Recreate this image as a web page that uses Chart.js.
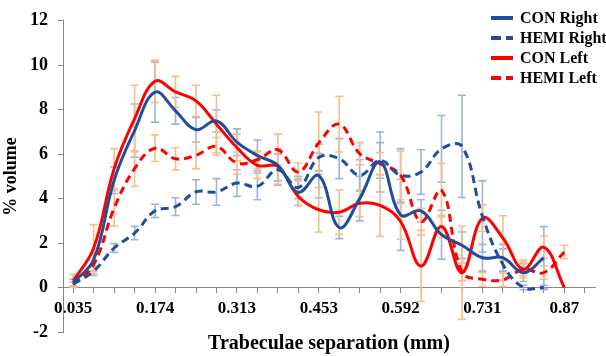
<!DOCTYPE html>
<html>
<head>
<meta charset="utf-8">
<script src="https://cdn.jsdelivr.net/npm/chart.js@4/dist/chart.umd.min.js"></script>
<style>
html, body { margin: 0; padding: 0; background: #ffffff; }
#wrap { position: relative; width: 606px; height: 356px; }
#legend { position: absolute; left: 491px; top: 8px; font: bold 16px "Liberation Serif", "Times New Roman", serif; color: #000; }
.item { display: flex; align-items: center; height: 20px; white-space: nowrap; }
.swatch { width: 22px; height: 4px; margin-right: 7px; }
</style>
</head>
<body>
<div id="wrap">
  <canvas id="c" width="606" height="356"></canvas>
  <div id="legend"></div>
</div>
<script>
// Categories (trabeculae separation, mm)
const categories = ['0.035','0.070','0.105','0.139','0.174','0.209','0.244','0.279','0.313','0.348','0.383','0.418','0.453','0.487','0.522','0.557','0.592','0.626','0.661','0.696','0.731','0.766','0.800','0.835','0.87','0.905'];

// Series values (% volume)
const conRight  = [0.22, 1.26, 4.83, 7.06, 8.79, 7.95, 7.10, 7.50, 6.54, 5.94, 5.50, 4.28, 5.04, 2.70, 4.00, 5.65, 3.27, 3.45, 2.38, 1.90, 1.34, 1.34, 0.67, 1.34, null];
const hemiRight = [0.15, 0.74, 1.78, 2.45, 3.45, 3.64, 4.30, 4.30, 4.70, 4.55, 5.30, 4.50, 5.85, 5.80, 5.05, 5.72, 5.05, 5.20, 6.24, 6.35, 3.20, 1.04, 0.00, 0.00, null];
const conLeft   = [0.30, 1.78, 5.35, 7.60, 9.28, 8.80, 8.40, 7.35, 6.30, 5.50, 5.45, 4.10, 3.50, 3.39, 3.79, 3.70, 2.97, 0.97, 2.75, 0.67, 3.12, 2.23, 0.82, 1.81, 0.00];
const hemiLeft  = [0.15, 1.04, 3.57, 5.35, 6.27, 5.79, 5.95, 6.35, 5.60, 5.75, 6.20, 5.20, 6.50, 7.35, 6.02, 5.57, 5.05, 2.97, 4.38, 0.70, 0.37, 0.35, 0.82, 0.67, 1.60];

// Error bar half-lengths
const conRightErr  = [0.15, 0.30, 0.60, 1.20, 1.35, 0.60, 0.55, 0.50, 0.60, 0.70, 0.70, 0.60, 1.00, 0.50, 1.00, 1.35, 1.60, 0.50, 1.10, 0.60, 0.60, 0.60, 0.40, 1.40, null];
const hemiRightErr = [0.10, 0.20, 0.20, 0.30, 0.30, 0.40, 0.55, 0.60, 0.60, 0.60, 0.70, 0.50, 0.60, 0.90, 0.70, 0.80, 1.20, 1.00, 1.50, 2.30, 1.60, 0.70, 0.10, 0.10, null];
const conLeftErr   = [0.30, 1.05, 0.90, 1.50, 0.95, 0.70, 0.70, 1.30, 0.60, 0.60, 0.80, 0.40, 1.00, 1.00, 0.60, 1.40, 0.80, 1.60, 0.50, 2.10, 0.60, 1.00, 0.40, 0.50, null];
const hemiLeftErr  = [0.10, 0.40, 0.80, 0.80, 0.60, 0.50, 0.60, 0.40, 0.50, 0.40, 0.70, 0.40, 1.40, 1.25, 0.50, 0.50, 1.10, 0.60, 1.20, 0.40, 0.30, 0.30, 0.30, 0.30, 0.30];

// Tick labels shown on the x axis
const xTickLabels = ['0.035','0.174','0.313','0.453','0.592','0.731','0.87'];
// Y axis ticks
const yMin = -2, yMax = 12, yStep = 2;

const BLUE = '#1F4E9B';
const RED = '#FF0000';
const BLUE_ERR = '#9BB4DE';
const ORANGE_ERR = '#F7BE86';
const SERIF = '"Liberation Serif", "Times New Roman", serif';

const errorBarPlugin = {
  id: 'errorBars',
  beforeDatasetsDraw(chart) {
    const ctx = chart.ctx;
    const y = chart.scales.y;
    chart.data.datasets.forEach((ds, i) => {
      const meta = chart.getDatasetMeta(i);
      if (meta.hidden || !ds.errors) return;
      ctx.save();
      ctx.strokeStyle = ds.errorColor;
      ctx.lineWidth = 1.6;
      meta.data.forEach((pt, j) => {
        const v = ds.data[j], e = ds.errors[j];
        if (v == null || e == null) return;
        const x = pt.x;
        const yt = y.getPixelForValue(v + e);
        const yb = y.getPixelForValue(v - e);
        ctx.beginPath();
        ctx.moveTo(x, yt); ctx.lineTo(x, yb);
        ctx.moveTo(x - 4, yt); ctx.lineTo(x + 4, yt);
        ctx.moveTo(x - 4, yb); ctx.lineTo(x + 4, yb);
        ctx.stroke();
      });
      ctx.restore();
    });
  }
};

const htmlLegendPlugin = {
  id: 'htmlLegend',
  afterUpdate(chart) {
    const box = document.getElementById('legend');
    box.innerHTML = '';
    chart.data.datasets.forEach(ds => {
      const item = document.createElement('div');
      item.className = 'item';
      const sw = document.createElement('span');
      sw.className = 'swatch';
      if (ds.borderDash && ds.borderDash.length) {
        sw.style.background = 'linear-gradient(to right, ' + ds.borderColor + ' 0 10px, transparent 10px 15px, ' + ds.borderColor + ' 15px 22px)';
      } else {
        sw.style.background = ds.borderColor;
      }
      const txt = document.createElement('span');
      txt.textContent = ds.label;
      item.appendChild(sw);
      item.appendChild(txt);
      box.appendChild(item);
    });
  }
};

function mkSet(label, data, errors, color, errColor, dashed) {
  return {
    label, data, errors, errorColor: errColor,
    borderColor: color, backgroundColor: color,
    borderWidth: 3, borderDash: dashed ? [8, 5] : [],
    pointRadius: 0, pointHoverRadius: 0,
    tension: 0.4, fill: false, spanGaps: false
  };
}

new Chart(document.getElementById('c'), {
  type: 'line',
  data: {
    labels: categories,
    datasets: [
      mkSet('CON Right', conRight, conRightErr, BLUE, BLUE_ERR, false),
      mkSet('HEMI Right', hemiRight, hemiRightErr, BLUE, BLUE_ERR, true),
      mkSet('CON Left', conLeft, conLeftErr, RED, ORANGE_ERR, false),
      mkSet('HEMI Left', hemiLeft, hemiLeftErr, RED, ORANGE_ERR, true)
    ]
  },
  options: {
    responsive: false,
    animation: false,
    layout: { padding: { top: 17, right: 11, bottom: 0, left: 0 } },
    plugins: {
      legend: { display: false },
      tooltip: { enabled: false }
    },
    scales: {
      x: {
        type: 'category',
        position: { y: 0 },
        offset: true,
        grid: { display: true, drawOnChartArea: false, drawTicks: true, tickLength: 5, color: '#868686' },
        border: { display: true, color: '#868686', width: 1 },
        ticks: {
          autoSkip: false, maxRotation: 0, minRotation: 0, padding: 6,
          color: '#000', font: { family: SERIF, size: 17, weight: 'bold' },
          callback: function (value) {
            const lab = this.getLabelForValue(value);
            return xTickLabels.includes(lab) ? lab : '';
          }
        }
      },
      x2: {
        type: 'category',
        position: 'bottom',
        grid: { display: false },
        border: { display: false },
        ticks: { display: false },
        title: { display: true, text: 'Trabeculae separation (mm)', color: '#000', padding: { top: 0, bottom: 0 },
          font: { family: SERIF, size: 20, weight: 'bold' } },
        afterFit(scale) { scale.height = 24; }
      },
      y: {
        min: yMin, max: yMax,
        grid: { display: true, drawOnChartArea: false, drawTicks: true, tickLength: 5, color: '#868686' },
        border: { display: true, color: '#868686', width: 1 },
        ticks: { stepSize: yStep, padding: 10, color: '#000', font: { family: SERIF, size: 18, weight: 'bold' } },
        title: { display: true, text: '% volume', color: '#000', padding: { top: 1, bottom: 0 },
          font: { family: SERIF, size: 18, weight: 'bold' } },
        afterFit(scale) { scale.width = 63; }
      }
    }
  },
  plugins: [errorBarPlugin, htmlLegendPlugin]
});
</script>
</body>
</html>
